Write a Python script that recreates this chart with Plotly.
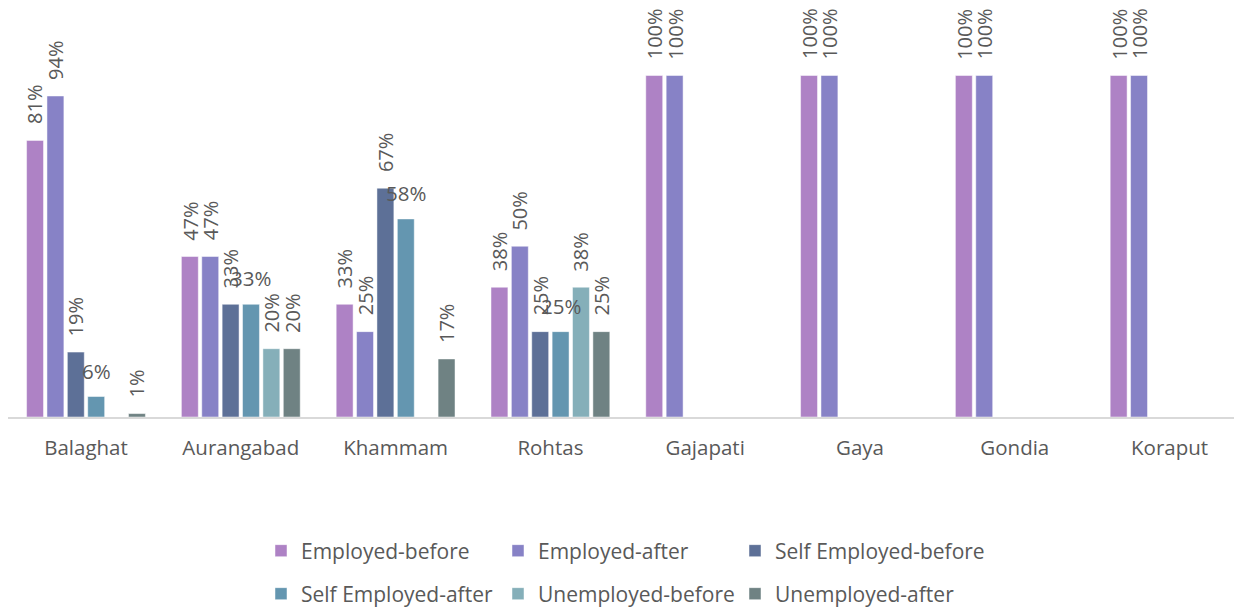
import plotly.graph_objects as go

categories = ["Balaghat", "Aurangabad", "Khammam", "Rohtas", "Gajapati", "Gaya", "Gondia", "Koraput"]
employed_before = [81, 47, 33, 38, 100, 100, 100, 100]
employed_after = [94, 47, 25, 50, 100, 100, 100, 100]
self_employed_before = [19, 33, 67, 25, None, None, None, None]
self_employed_after = [6, 33, 58, 25, None, None, None, None]
unemployed_before = [None, 20, None, 38, None, None, None, None]
unemployed_after = [1, 20, 17, 25, None, None, None, None]

series = [
    ("Employed-before", employed_before, "#AE82C5"),
    ("Employed-after", employed_after, "#8782C6"),
    ("Self Employed-before", self_employed_before, "#5D7097"),
    ("Self Employed-after", self_employed_after, "#6496B0"),
    ("Unemployed-before", unemployed_before, "#85AFB9"),
    ("Unemployed-after", unemployed_after, "#6F8283"),
]
horizontal_label_series = {"Self Employed-after"}

FONT = "Open Sans"
TXT = "#595959"
BARGAP = 0.21
# the page body adds an 8px offset, so the figure is drawn 8px smaller
W, H = 1234, 601
ML, MR, MT, MB = 0, 0, 0, 192

plot_w = W - ML - MR
plot_h = H - MT - MB
cat_px = 154.8
x_min = -0.5 - 0.6 / cat_px
x_max = x_min + plot_w / cat_px
y_max = plot_h / 3.415

# legend grid: 3 columns x 2 rows (pixel positions in figure space)
legend_cols = [253, 490, 727]
legend_rows = [543, 586]

def legend_pos(px_left, px_center_y):
    return dict(
        orientation="h", x=(px_left - ML) / plot_w, xanchor="left",
        y=1 - (px_center_y - MT) / plot_h, yanchor="middle",
        font=dict(family=FONT, size=21, color=TXT),
        bgcolor="rgba(0,0,0,0)",
    )

fig = go.Figure()
n = len(series)
annotations = []
legends = {}
for k, (name, vals, col) in enumerate(series):
    lkey = "legend" if k == 0 else f"legend{k + 1}"
    legends[lkey] = legend_pos(legend_cols[k % 3], legend_rows[k // 3])
    fig.add_trace(go.Bar(
        x=categories, y=vals, name=name,
        marker=dict(color=col, line=dict(color="rgba(255,255,255,0.6)", width=0.8)),
        legend=lkey,
        hoverinfo="skip",
    ))
    off = (-0.5 + (k + 0.5) / n) * (1 - BARGAP)
    for i, v in enumerate(vals):
        if v is None:
            continue
        if name in horizontal_label_series:
            annotations.append(dict(
                x=i + off, y=v, xref="x", yref="y", text=f"{v}%", showarrow=False,
                xanchor="center", yanchor="middle", yshift=26,
                font=dict(family=FONT, size=20.5, color=TXT)))
        else:
            annotations.append(dict(
                x=i + off, y=v, xref="x", yref="y", text=f"{v}%", showarrow=False,
                textangle=-90, xanchor="center", yanchor="bottom", yshift=14,
                font=dict(family=FONT, size=20, color=TXT)))

fig.update_layout(
    width=W, height=H,
    margin=dict(l=ML, r=MR, t=MT, b=MB, autoexpand=False),
    paper_bgcolor="white", plot_bgcolor="white",
    barmode="group", bargap=BARGAP, bargroupgap=0.17,
    showlegend=True,
    xaxis=dict(
        type="category", range=[x_min, x_max],
        showline=True, linecolor="#D9D9D9", linewidth=1.5,
        showgrid=False, ticks="", zeroline=False, automargin=False,
        ticklabelstandoff=12,
        tickfont=dict(family=FONT, size=20.5, color=TXT),
    ),
    yaxis=dict(
        range=[0, y_max], visible=False, showgrid=False, zeroline=False,
    ),
    annotations=annotations,
    font=dict(family=FONT, color=TXT),
    **legends,
)

fig.write_html("out.html")
